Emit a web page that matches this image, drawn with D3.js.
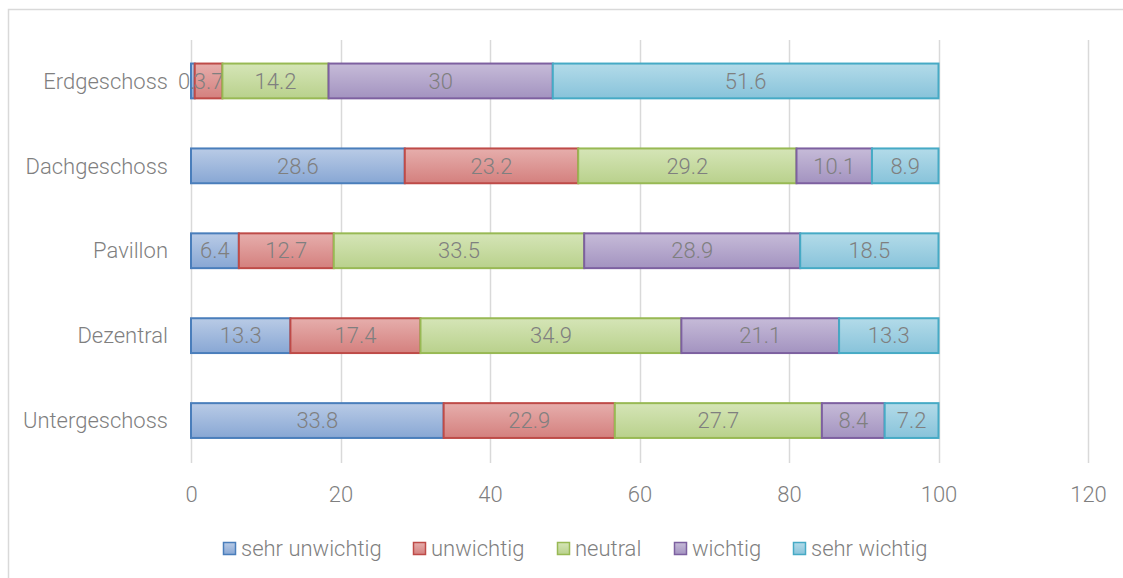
<!DOCTYPE html>
<html>
<head>
<meta charset="utf-8">
<script src="https://cdn.jsdelivr.net/npm/d3@7"></script>
<style>
  html, body { margin: 0; padding: 0; background: #fff; }
  svg { display: block; }
  text { font-family: "Roboto", "Liberation Sans", sans-serif; font-weight: 300; fill: #7f7f7f; }
</style>
</head>
<body>
<svg id="chart" width="1123" height="578"></svg>
<script>
// Survey answers per location (percent), listed top row first
const categories = ["Erdgeschoss", "Dachgeschoss", "Pavillon", "Dezentral", "Untergeschoss"];
const seriesNames = ["sehr unwichtig", "unwichtig", "neutral", "wichtig", "sehr wichtig"];
const sehrUnwichtig = [0.5, 28.6, 6.4, 13.3, 33.8];
const unwichtig     = [3.7, 23.2, 12.7, 17.4, 22.9];
const neutral       = [14.2, 29.2, 33.5, 34.9, 27.7];
const wichtig       = [30, 10.1, 28.9, 21.1, 8.4];
const sehrWichtig   = [51.6, 8.9, 18.5, 13.3, 7.2];
const xTicks = [0, 20, 40, 60, 80, 100, 120];

const seriesValues = [sehrUnwichtig, unwichtig, neutral, wichtig, sehrWichtig];
const palette = [
  { stroke: "#4a7ebb", top: "#b9cbe6", bottom: "#88a7d4" },
  { stroke: "#be4b48", top: "#e6aeac", bottom: "#d4807e" },
  { stroke: "#98b954", top: "#d5e5b7", bottom: "#b9d18c" },
  { stroke: "#7d60a0", top: "#c6bbd8", bottom: "#a393c0" },
  { stroke: "#46aac5", top: "#b3dbe9", bottom: "#88c3da" }
];

const rows = categories.map((c, i) => {
  const row = { category: c };
  seriesNames.forEach((s, j) => { row[s] = seriesValues[j][i]; });
  return row;
});
const stacked = d3.stack().keys(seriesNames)(rows);

const svg = d3.select("#chart");
const W = 1123, H = 578;
const FS = 22;

// outer chart border
svg.append("rect")
  .attr("x", 8.5).attr("y", 9.5)
  .attr("width", W).attr("height", H)
  .attr("fill", "none").attr("stroke", "#d9d9d9").attr("stroke-width", 1.5);

const plot = { left: 191, right: 1088, top: 38.5, bottom: 463 };

const x = d3.scaleLinear().domain([0, 120]).range([plot.left, plot.right]);
const y = d3.scaleBand().domain(categories).range([plot.top, plot.bottom]).paddingInner(0.59).paddingOuter(0.295);

const defs = svg.append("defs");
palette.forEach((p, i) => {
  const g = defs.append("linearGradient").attr("id", "grad" + i)
    .attr("x1", 0).attr("y1", 0).attr("x2", 0).attr("y2", 1);
  g.append("stop").attr("offset", "0%").attr("stop-color", p.top);
  g.append("stop").attr("offset", "100%").attr("stop-color", p.bottom);
});

// vertical gridlines
svg.append("g").selectAll("line").data(xTicks).join("line")
  .attr("x1", d => Math.round(x(d)) + 0.5).attr("x2", d => Math.round(x(d)) + 0.5)
  .attr("y1", plot.top + 1.5).attr("y2", plot.bottom)
  .attr("stroke", "#d9d9d9").attr("stroke-width", 1.5);

// x axis labels
const xAxis = d3.axisBottom(x).tickValues(xTicks).tickSize(0).tickPadding(0).tickFormat(d3.format("d"));
const xg = svg.append("g").attr("transform", `translate(0,${plot.bottom + 31})`).call(xAxis);
xg.select(".domain").remove();
xg.selectAll("text").attr("font-size", FS).attr("dy", "0.35em").attr("y", 0).style("fill", "#7f7f7f");

// category labels
const yAxis = d3.axisLeft(y).tickSize(0).tickPadding(23);
const yg = svg.append("g").attr("transform", `translate(${plot.left},0)`).call(yAxis);
yg.select(".domain").remove();
yg.selectAll("text").attr("font-size", FS).attr("dy", "0.35em").style("fill", "#7f7f7f");

// stacked bars
const layers = svg.append("g").selectAll("g").data(stacked).join("g");
layers.selectAll("rect").data((d, i) => d.map(v => ({ v, i }))).join("rect")
  .attr("x", d => x(d.v[0]))
  .attr("y", d => y(d.v.data.category))
  .attr("width", d => x(d.v[1]) - x(d.v[0]))
  .attr("height", y.bandwidth())
  .attr("fill", d => `url(#grad${d.i})`)
  .attr("stroke", d => palette[d.i].stroke)
  .attr("stroke-width", 2);

// value labels
layers.selectAll("text").data((d, i) => d.map(v => ({ v, i, key: d.key }))).join("text")
  .attr("x", d => (x(d.v[0]) + x(d.v[1])) / 2)
  .attr("y", d => y(d.v.data.category) + y.bandwidth() / 2)
  .attr("dy", "0.35em")
  .attr("text-anchor", "middle")
  .attr("font-size", FS)
  .text(d => d.v.data[d.key]);

// legend
const legendX = [223, 413, 557, 674, 793];
const legend = svg.append("g");
seriesNames.forEach((s, i) => {
  legend.append("rect")
    .attr("x", legendX[i] + 0.5).attr("y", 542.5)
    .attr("width", 12).attr("height", 12)
    .attr("fill", `url(#grad${i})`)
    .attr("stroke", palette[i].stroke).attr("stroke-width", 1.5);
  legend.append("text")
    .attr("x", legendX[i] + 18).attr("y", 548)
    .attr("dy", "0.35em")
    .attr("font-size", FS)
    .text(s);
});
</script>
</body>
</html>
